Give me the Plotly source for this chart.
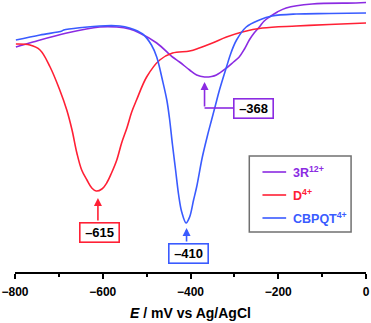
import plotly.graph_objects as go

# potential (mV vs Ag/AgCl) and current (arbitrary units)
e_blue = [-798, -743, -693, -689, -607, -561, -539, -509, -489, -477, -464, -454, -448, -441,
          -434, -427, -420, -410, -402, -393, -386, -373, -361, -352, -343, -334, -318, -307,
          -295, -273, -243, -214, -159, -84, 0]
i_blue = [232, 237, 241, 242, 246, 246, 244, 238, 227, 215, 192, 172, 154, 127,
          102, 77, 60, 49, 55, 72, 85, 115, 137, 152, 167, 182, 205, 220,
          232, 245, 252, 256, 258, 258.5, 259]

e_red = [-798, -766, -743, -720, -698, -682, -670, -659, -648, -636, -625, -615, -602, -591,
         -580, -568, -557, -545, -534, -523, -500, -470, -441, -402, -380, -350, -318, -282,
         -236, -159, -84, 0]
i_red = [228, 227, 222, 205, 182, 162, 142, 119, 102, 92, 84, 81, 83, 89,
         99, 112, 129, 144, 160, 172, 195, 212, 219, 221, 224, 229, 235, 240,
         244, 246, 247.5, 249]

e_purple = [-798, -759, -682, -607, -568, -539, -516, -477, -441, -425, -402, -386, -368, -352,
            -341, -318, -302, -289, -277, -266, -255, -243, -232, -220, -202, -182, -123, -23, 0]
i_purple = [225, 230, 239, 245, 245, 243, 239, 229, 215, 210, 202, 197, 195, 195.5,
            197, 204, 210, 215, 223, 232, 239, 245, 251, 255, 260, 264, 268, 269, 269.5]

names = ["3R<sup>12+</sup>", "D<sup>4+</sup>", "CBPQT<sup>4+</sup>"]
colors = ["#8B2BE2", "#FF2035", "#3A5BFF"]
peaks = [-368, -615, -410]

fig = go.Figure()
for e, i, n, c in [(e_purple, i_purple, names[0], colors[0]),
                   (e_red, i_red, names[1], colors[1]),
                   (e_blue, i_blue, names[2], colors[2])]:
    fig.add_trace(go.Scatter(x=e, y=i, mode='lines', name=n, showlegend=False,
                             line=dict(color=c, width=1.6, shape='spline')))

# peak labels
box = dict(font=dict(size=13, color='black', weight='bold'),
           bgcolor='white', borderwidth=1.6, width=36, height=16, showarrow=False)
fig.add_annotation(x=-257, y=164, text="–368", bordercolor=colors[0], **box)
fig.add_annotation(x=-608, y=40, text="–615", bordercolor=colors[1], **box)
fig.add_annotation(x=-405, y=19, text="–410", bordercolor=colors[2], **box)

fig.add_shape(type='line', x0=-302, y0=164, x1=peaks[0], y1=164, line=dict(color=colors[0], width=1.6))
arrow = dict(text='', showarrow=True, arrowhead=2, arrowsize=1, arrowwidth=1.6,
             axref='x', ayref='y')
fig.add_annotation(x=peaks[0], y=190, ax=peaks[0], ay=164, arrowcolor=colors[0], **arrow)
fig.add_annotation(x=-611, y=74, ax=-611, ay=50, arrowcolor=colors[1], **arrow)
fig.add_annotation(x=-409, y=44, ax=-409, ay=29, arrowcolor=colors[2], **arrow)

# legend box drawn by hand
fig.add_shape(type='rect', x0=-266, x1=-34, y0=40, y1=116, line=dict(color='#707070', width=1.5),
              fillcolor='white', layer='above')
for k, yy in enumerate([100, 77, 54]):
    fig.add_shape(type='line', x0=-236, x1=-182, y0=yy, y1=yy, line=dict(color=colors[k], width=1.6))
    fig.add_annotation(x=-170, y=yy, text="<b>%s</b>" % names[k], showarrow=False, xanchor='left',
                       font=dict(size=12.5, color=colors[k]))

fig.update_layout(
    width=371, height=323, margin=dict(l=15, r=5, t=0, b=51),
    plot_bgcolor='white', paper_bgcolor='white',
    font=dict(family='Arial, Liberation Sans', color='black'),
    xaxis=dict(range=[-800, 0], showgrid=False, zeroline=False, showline=True, linecolor='black',
               linewidth=2, ticks='outside', ticklen=5, tickwidth=2, tickcolor='black', dtick=200,
               tickfont=dict(size=12, weight='bold'), ticklabelstandoff=3, automargin=False,
               minor=dict(dtick=100, ticks='outside', ticklen=3, tickwidth=2, tickcolor='black'),
               title=dict(text="<b><i>E</i> / mV vs Ag/AgCl</b>", font=dict(size=14), standoff=10)),
    yaxis=dict(range=[0, 272], visible=False),
)

# the page body has an 8px margin by default; drop it so the figure fills the window
fig.write_html("out.html", config={'displayModeBar': False},
               post_script="document.body.style.margin='0px';")
